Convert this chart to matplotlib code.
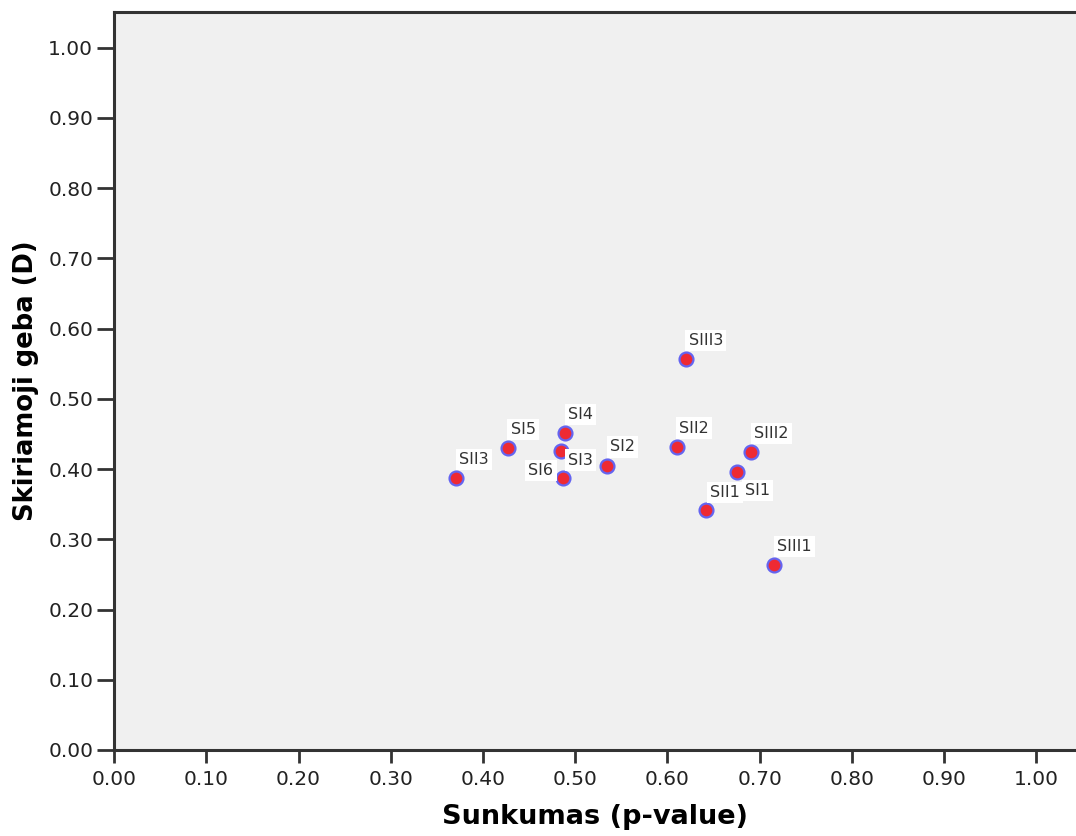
import matplotlib.pyplot as plt

# Data
labels = ["SII3", "SI5", "SI4", "SI3", "SI6", "SI2", "SII2", "SIII3", "SIII2", "SI1", "SII1", "SIII1"]
p_value = [0.371, 0.427, 0.489, 0.485, 0.487, 0.535, 0.610, 0.620, 0.691, 0.675, 0.642, 0.716]
d_value = [0.387, 0.430, 0.451, 0.426, 0.387, 0.405, 0.432, 0.557, 0.424, 0.396, 0.342, 0.263]
# label offsets in points (text anchor at lower-left)
offsets = {
    "SI3": (5, -12),
    "SI6": (-25, 0),
    "SI1": (6, -19),
    "SII1": (3, 7),
}

plt.rcParams['font.family'] = ['DejaVu Sans']

fig = plt.figure(figsize=(10.76, 8.36), dpi=100)
ax = fig.add_axes([0.106, 0.1029, 0.894, 0.8828])
ax.set_facecolor('#f0f0f0')

ax.scatter(p_value, d_value, s=100, color='#ee2a33', edgecolor='#6464f0', linewidth=1.6, zorder=3)

for lab, x, y in zip(labels, p_value, d_value):
    dx, dy = offsets.get(lab, (2, 8))
    ax.annotate(lab, (x, y), xytext=(dx, dy), textcoords='offset points',
                fontsize=11.5, color='#333333', ha='left', va='bottom',
                bbox=dict(boxstyle='square,pad=0.2', fc='white', ec='none'), zorder=4)

ax.set_xlim(0, 1.043)
ax.set_ylim(0, 1.051)
ticks = [i / 10 for i in range(11)]
ax.set_xticks(ticks)
ax.set_yticks(ticks)
ax.set_xticklabels([f"{t:.2f}" for t in ticks])
ax.set_yticklabels([f"{t:.2f}" for t in ticks])
ax.tick_params(direction='out', width=2, color='#333333', labelsize=14.5, labelcolor='#222222')
ax.tick_params(axis='y', length=12, pad=3)
ax.tick_params(axis='x', length=9.5, pad=5)

for side in ['left', 'bottom', 'top']:
    ax.spines[side].set_linewidth(2.2)
    ax.spines[side].set_color('#333333')
ax.spines['right'].set_visible(False)

ax.set_xlabel("Sunkumas (p-value)", fontsize=19.5, fontweight='bold', labelpad=11)
ax.set_ylabel("Skiriamoji geba (D)", fontsize=18.6, fontweight='bold', labelpad=7)

fig.savefig("out.png", dpi=100)
